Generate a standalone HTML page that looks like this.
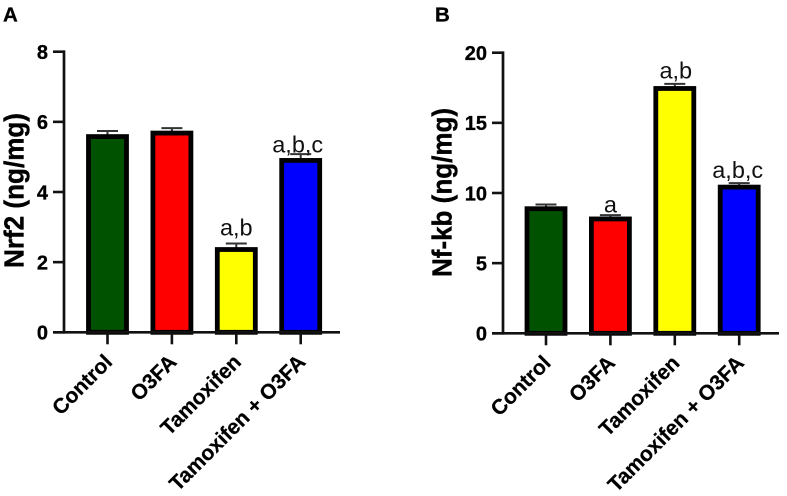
<!DOCTYPE html>
<html lang="en">
<head>
<meta charset="utf-8">
<title>Nrf2 and Nf-kb bar charts</title>
<style>
html,body{margin:0;padding:0;background:#fff;width:787px;height:496px;overflow:hidden}
svg{display:block;font-family:"Liberation Sans",Arial,sans-serif}
</style>
</head>
<body>
<svg id="figure" xmlns="http://www.w3.org/2000/svg" width="787" height="496" viewBox="0 0 787 496">
  <g id="panel-a"></g>
  <g id="panel-b"></g>
</svg>
<script>
const categories = ['Control', 'O3FA', 'Tamoxifen', 'Tamoxifen + O3FA'];
const barColors = ['#005200', '#ff0000', '#ffff00', '#0000ff'];

const nrf2Values = [5.58, 5.68, 2.36, 4.9];
const nrf2Errors = [0.16, 0.14, 0.17, 0.18];
const nrf2Annotations = ['', '', 'a,b', 'a,b,c'];
const nrf2Ticks = [0, 2, 4, 6, 8];

const nfkbValues = [8.88, 8.15, 17.45, 10.42];
const nfkbErrors = [0.3, 0.27, 0.33, 0.28];
const nfkbAnnotations = ['', 'a', 'a,b', 'a,b,c'];
const nfkbTicks = [0, 5, 10, 15, 20];

const SVG_NS = 'http://www.w3.org/2000/svg';

function make(parent, tag, attrs, text) {
  const node = document.createElementNS(SVG_NS, tag);
  for (const key in attrs) node.setAttribute(key, attrs[key]);
  if (text !== undefined) node.textContent = text;
  parent.appendChild(node);
  return node;
}

function drawPanel(cfg) {
  const root = document.getElementById(cfg.id);
  const yScale = v => cfg.y0 - (v / cfg.yMax) * (cfg.y0 - cfg.yTop);
  const xScale = i => cfg.xFirst + i * cfg.xStep;

  const letter = make(root, 'text', {x: cfg.letterX, y: 21.5, 'font-size': 20.5, 'font-weight': 700, fill: '#000', stroke: '#000', 'stroke-width': 0.3}, cfg.letter);
  
  

  const title = make(root, 'text', {
    transform: `translate(${cfg.titleX},${cfg.titleY}) rotate(-90)`,
    'text-anchor': 'middle', 'font-size': 27.5, 'font-weight': 700, fill: '#000',
    stroke: '#000', 'stroke-width': 0.4,
    textLength: cfg.titleLength, lengthAdjust: 'spacingAndGlyphs'
  }, cfg.title);
  
  

  cfg.values.forEach((value, i) => {
    const cx = xScale(i);
    const top = yScale(value);
    const errTop = yScale(value + cfg.errors[i]);

    const stem = make(root, 'line', {x1: cx, x2: cx, y1: top, y2: errTop, stroke: '#333', 'stroke-width': 2});
    
    

    const cap = make(root, 'line', {x1: cx - 10.5, x2: cx + 10.5, y1: errTop, y2: errTop, stroke: '#333', 'stroke-width': 2});
    
    

    const bar = make(root, 'rect', {
      x: cx - 19, y: top, width: 38, height: cfg.y0 - top,
      fill: barColors[i], stroke: '#000', 'stroke-width': 4.8
    });
    
    

    if (cfg.annotations[i]) {
      const note = make(root, 'text', {
        x: cx + cfg.noteShift[i], y: errTop - cfg.noteLift[i],
        'text-anchor': 'middle', 'font-size': 23.5, fill: '#111'
      }, cfg.annotations[i]);
      
      
    }

    const tick = make(root, 'line', {x1: cx, x2: cx, y1: cfg.y0, y2: cfg.y0 + 12, stroke: '#111', 'stroke-width': 2.6});
    
    

    const label = make(root, 'text', {
      transform: `translate(${cx + 6},${cfg.y0 + 31}) rotate(-45)`,
      'text-anchor': 'end', 'font-size': 21, 'font-weight': 700, fill: '#000',
      stroke: '#000', 'stroke-width': 0.25
    }, categories[i]);
    
    
  });

  const yAxis = make(root, 'line', {x1: cfg.axisX, x2: cfg.axisX, y1: cfg.yTop - 1.3, y2: cfg.y0 + 1.3, stroke: '#111', 'stroke-width': 2.7});
  
  

  const xAxis = make(root, 'line', {x1: cfg.axisX - 11, x2: cfg.xEnd, y1: cfg.y0, y2: cfg.y0, stroke: '#111', 'stroke-width': 2.7});
  
  

  cfg.ticks.forEach(t => {
    const y = yScale(t);
    const tick = make(root, 'line', {x1: cfg.axisX - 11, x2: cfg.axisX, y1: y, y2: y, stroke: '#111', 'stroke-width': 2.6});
    
    

    const label = make(root, 'text', {
      x: cfg.axisX - 16, y: y + 7.3, 'text-anchor': 'end',
      'font-size': 20, 'font-weight': 700, fill: '#000', stroke: '#000', 'stroke-width': 0.3
    }, t);
    
    
  });
}

drawPanel({
  id: 'panel-a', letter: 'A', letterX: 3, title: 'Nrf2 (ng/mg)', titleX: 23.5, titleY: 190.5, titleLength: 155,
  values: nrf2Values, errors: nrf2Errors, annotations: nrf2Annotations, ticks: nrf2Ticks, yMax: 8,
  axisX: 64, y0: 332.3, yTop: 51.7, xFirst: 107.5, xStep: 64.4, xEnd: 340,
  noteLift: [0, 0, 8, 1.5], noteShift: [0, 0, 0, -3]
});

drawPanel({
  id: 'panel-b', letter: 'B', letterX: 435, title: 'Nf-kb (ng/mg)', titleX: 451.5, titleY: 192.5, titleLength: 169,
  values: nfkbValues, errors: nfkbErrors, annotations: nfkbAnnotations, ticks: nfkbTicks, yMax: 20,
  axisX: 503, y0: 333.3, yTop: 52.7, xFirst: 546, xStep: 64.4, xEnd: 779,
  noteLift: [0, 2.5, 5.5, 5], noteShift: [0, 0, 1, -1.5]
});
</script>
</body>
</html>
